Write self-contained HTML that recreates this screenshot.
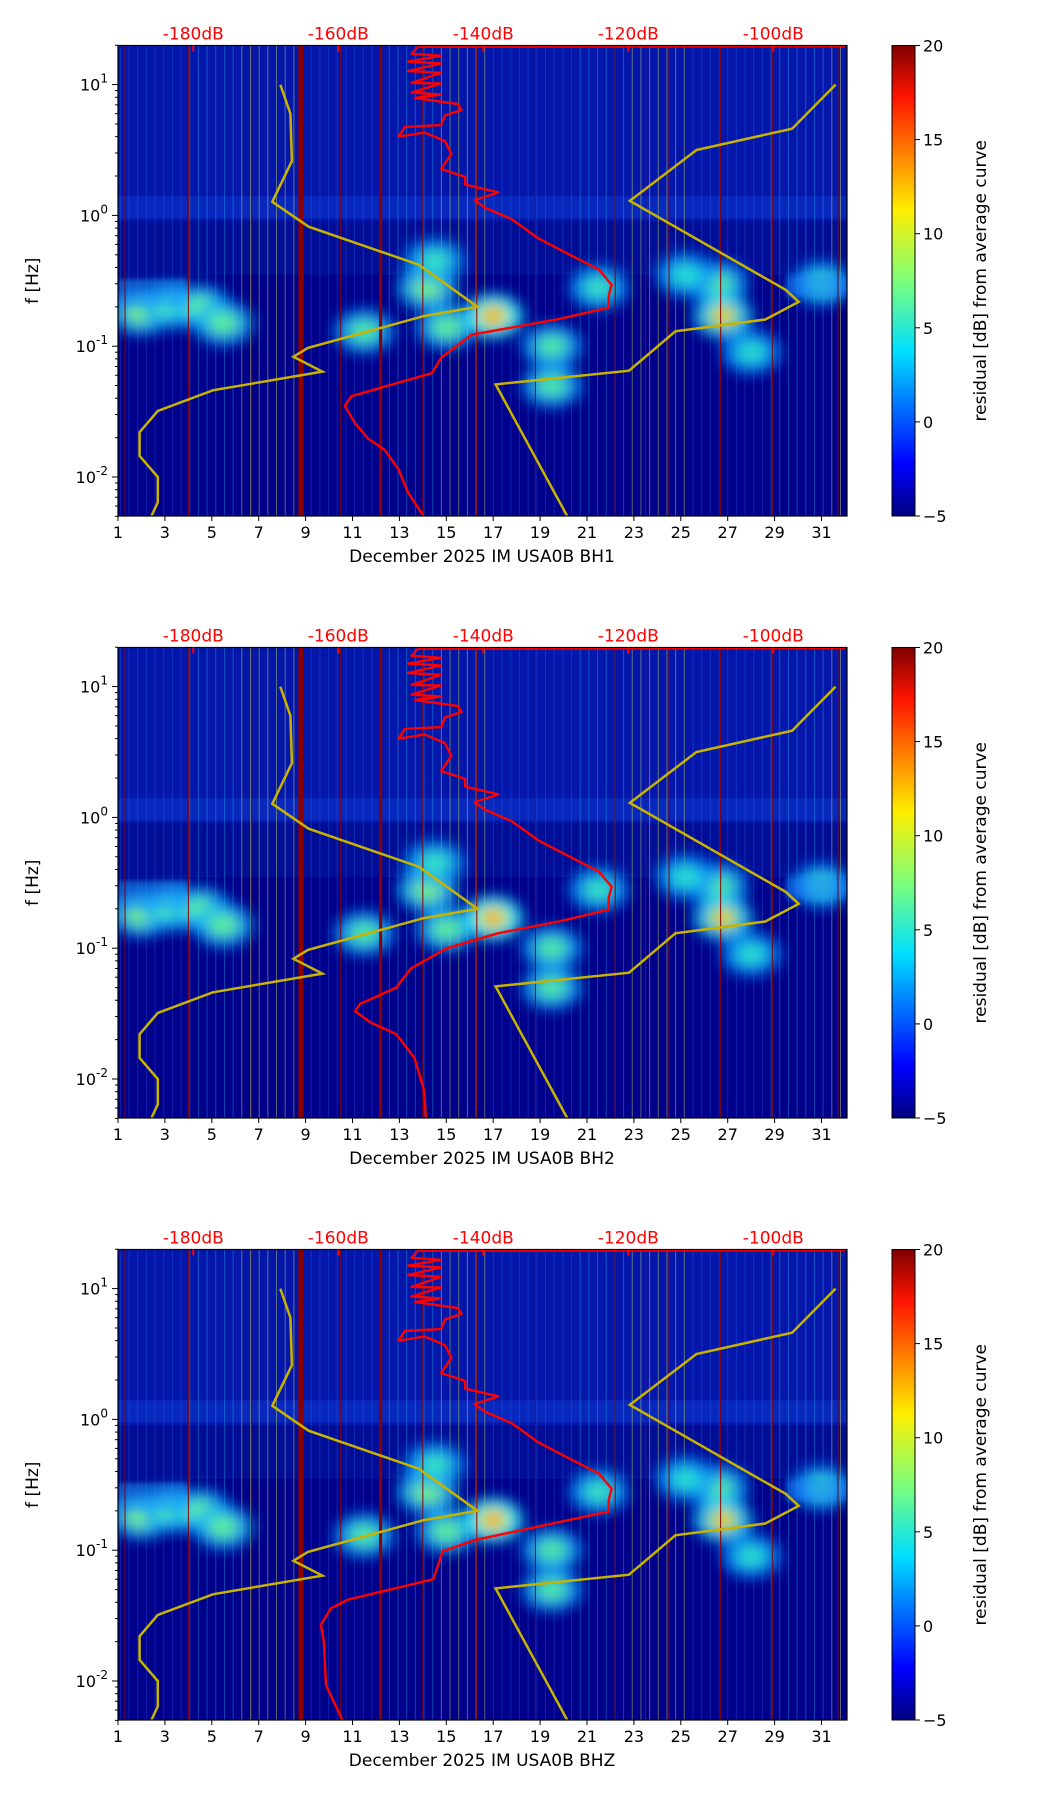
<!DOCTYPE html>
<html><head><meta charset="utf-8"><style>
html,body{margin:0;padding:0;background:#fff;}
svg{display:block;font-family:"DejaVu Sans","Liberation Sans",sans-serif;}
</style></head><body>
<svg id="chart" width="1052" height="1806" viewBox="0 0 1052 1806" xmlns="http://www.w3.org/2000/svg">
<defs>
<linearGradient id="jet" x1="0" y1="1" x2="0" y2="0">
<stop offset="0" stop-color="#00007f"/><stop offset="0.11" stop-color="#0000ff"/>
<stop offset="0.35" stop-color="#00e0ff"/><stop offset="0.5" stop-color="#7dff7a"/>
<stop offset="0.65" stop-color="#ffee00"/><stop offset="0.89" stop-color="#ff1400"/>
<stop offset="1" stop-color="#7f0000"/></linearGradient>
<filter id="blur" x="-50%" y="-50%" width="200%" height="200%"><feGaussianBlur stdDeviation="7"/></filter>
<filter id="blur2" x="-50%" y="-50%" width="200%" height="200%"><feGaussianBlur stdDeviation="3"/></filter>
</defs>
</svg>
<script>
// ---- data ----
const days = [1,3,5,7,9,11,13,15,17,19,21,23,25,27,29,31];
const dbTicks = [-180,-160,-140,-120,-100];
const cbTicks = [20,15,10,5,0,-5];
const channels = ["BH1","BH2","BHZ"];
// NLNM / NHNM (freq Hz, dB)
const nlnmF = [10,6.0,2.6,1.27,0.82,0.42,0.2,0.17,0.097,0.083,0.064,0.046,0.032,0.022,0.0145,0.01,0.0064,0.005];
const nlnmDb = [-168.0,-166.6,-166.4,-169.1,-164.1,-148.9,-140.8,-148.2,-164.2,-166.2,-162.2,-177.3,-184.9,-187.4,-187.4,-184.9,-184.9,-185.8];
const nhnmF = [10,4.6,3.16,1.29,0.27,0.218,0.16,0.13,0.065,0.051,0.005];
const nhnmDb = [-91.4,-97.4,-110.6,-119.8,-98.3,-96.5,-101.1,-113.5,-119.9,-138.3,-128.4];
// PSD curves
const psdHighF = [19.7,19.5,17.2,16.6,15.0,14.5,12.7,12.3,10.3,10.2,8.7,8.4,7.9,7.1,6.4,5.8,4.9,4.75,4.0,4.3,3.7,2.96,2.26,1.97,1.72,1.5,1.31,1.15,0.935,0.667,0.491,0.387,0.296,0.241,0.197];
const psdHighDb = [-90.1,-149.0,-149.9,-145.8,-150.4,-145.8,-150.4,-145.8,-149.9,-145.8,-149.9,-145.8,-149.4,-143.5,-143.0,-145.3,-145.8,-150.8,-151.7,-148.1,-145.3,-144.4,-145.8,-142.5,-142.5,-137.9,-141.2,-139.8,-136.1,-132.4,-127.8,-124.1,-122.3,-122.7,-122.7];
const psd1LowF = [0.161,0.1225,0.0817,0.0622,0.0491,0.0415,0.035,0.0258,0.0197,0.0161,0.01146,0.00762,0.005];
const psd1LowDb = [-129.6,-141.6,-145.8,-147.1,-153.6,-158.2,-159.1,-157.7,-155.9,-153.6,-151.7,-150.4,-148.2];
const psd2LowF = [0.16,0.13,0.1,0.07,0.05,0.0375,0.033,0.027,0.022,0.0145,0.0083,0.005];
const psd2LowDb = [-129.6,-138,-145,-150,-152,-157,-157.7,-155.5,-152,-149.5,-148.2,-147.9];
const psd3LowF = [0.19,0.12,0.098,0.06,0.042,0.036,0.027,0.02,0.0093,0.005];
const psd3LowDb = [-124.1,-141,-145.6,-146.9,-158.6,-161,-162.4,-162,-161.7,-159.4];
// spectrogram blobs: day, freq, intensity
const blobDay = [2,3.3,4.5,5.5,11.5,14.2,14.5,15,17,17,19.5,19.5,21.5,26.6,26.8,28,31,25.2];
const blobF   = [0.18,0.2,0.2,0.15,0.13,0.28,0.45,0.14,0.17,0.17,0.1,0.05,0.28,0.3,0.17,0.09,0.3,0.35];
const blobI   = [0.6,0.45,0.5,0.5,0.45,0.6,0.35,0.5,0.55,0.95,0.45,0.45,0.35,0.45,0.8,0.3,0.35,0.3];
const redLines = [1.3,4,6.7,8.8,10.5,12.2,14,16.3,18.8,22.2,23.5,24.5,26.7,28.9,31.7];

const NS="http://www.w3.org/2000/svg";
const svg=document.getElementById('chart');
function el(t,a,p){const e=document.createElementNS(NS,t);for(const k in a)e.setAttribute(k,a[k]);(p||svg).appendChild(e);return e;}
const L=118,R=847;
const xD=d=>L+(d-1)*23.45;
const xDb=db=>628.3+(db+120)*7.25;
function jet(v){const s=[[0,[0,0,127]],[0.11,[0,0,255]],[0.35,[0,224,255]],[0.5,[125,255,122]],[0.65,[255,238,0]],[0.89,[255,20,0]],[1,[127,0,0]]];
 for(let i=1;i<s.length;i++)if(v<=s[i][0]){const t=(v-s[i-1][0])/(s[i][0]-s[i-1][0]);const c=s[i-1][1].map((a,j)=>Math.round(a+(s[i][1][j]-a)*t));return`rgb(${c})`;}return'rgb(127,0,0)';}

channels.forEach((ch,pi)=>{
 const off=pi*602, T=45.5+off, B=516+off;
 const yF=f=>84.6+off-(Math.log10(f)-1)*130.8;
 const g=el('g',{});
 
 
 const cid='clip'+pi;
 const cp=el('clipPath',{id:cid},g);el('rect',{x:L,y:T,width:R-L,height:B-T},cp);
 const area=el('g',{'clip-path':`url(#${cid})`},g);
 
 
 el('rect',{x:L,y:T,width:R-L,height:B-T,fill:'#00008a'},area);
 el('rect',{x:L,y:T,width:R-L,height:yF(0.9)-T,fill:'#0626c0',opacity:0.6},area);
 el('rect',{x:L,y:yF(1.4),width:R-L,height:yF(0.95)-yF(1.4),fill:'#1040d8',opacity:0.4},area);
 el('rect',{x:L,y:yF(0.9),width:R-L,height:yF(0.35)-yF(0.9),fill:'#0420a8',opacity:0.4},area);
 // vertical streaks
 for(let d=1.1;d<32;d+=0.37){const k=Math.round(d*37)%7;
  const c=k<2?'#e8ff40':k<4?'#30e0ff':'#2a70ff';
  el('line',{x1:xD(d),x2:xD(d),y1:T,y2:B,stroke:c,'stroke-width':1,opacity:k<2?0.4:0.3},area);}
 const bg=el('g',{filter:'url(#blur)'},area);
 blobDay.forEach((d,i)=>{const x=xD(d),y=yF(blobF[i]),v=blobI[i];
  el('ellipse',{cx:x,cy:y,rx:30,ry:22,fill:jet(0.22+v*0.15),opacity:0.8},bg);
  el('ellipse',{cx:x,cy:y,rx:16,ry:12,fill:jet(0.3+v*0.35),opacity:0.85},bg);
  if(v>0.7)el('ellipse',{cx:x,cy:y,rx:7,ry:7,fill:jet(0.45+v*0.35)},bg);});
 el('rect',{x:L,y:yF(0.33),width:70,height:yF(0.2)-yF(0.33),fill:'#1aa0ff',opacity:0.5,filter:'url(#blur2)'},area);
 el('rect',{x:xD(29.5),y:yF(0.35),width:R-xD(29.5),height:yF(0.24)-yF(0.35),fill:'#1a80ff',opacity:0.5,filter:'url(#blur2)'},area);
 redLines.forEach(d=>{const w=(d===8.8?5:d===12.2?3:1);
  const ln=el('line',{x1:xD(d),x2:xD(d),y1:T,y2:B,stroke:'#8b0000','stroke-width':w},area);
  });
 // noise models
 const mk=(F,D)=>F.map((f,i)=>`${xDb(D[i]).toFixed(1)},${yF(f).toFixed(1)}`).join(' ');
 const n1=el('polyline',{points:mk(nlnmF,nlnmDb),fill:'none',stroke:'#c8b400','stroke-width':2.5},area);
 
 const n2=el('polyline',{points:mk(nhnmF,nhnmDb),fill:'none',stroke:'#c8b400','stroke-width':2.5},area);
 
 const lowF=[psd1LowF,psd2LowF,psd3LowF][pi],lowDb=[psd1LowDb,psd2LowDb,psd3LowDb][pi];
 const pc=el('polyline',{points:mk(psdHighF.concat(lowF),psdHighDb.concat(lowDb)),fill:'none',stroke:'#ff0000','stroke-width':2.4,'stroke-linejoin':'round'},area);
 
 el('rect',{x:L,y:T,width:R-L,height:B-T,fill:'none',stroke:'#000','stroke-width':1.2},g);
 // x ticks
 days.forEach(d=>{const x=xD(d);el('line',{x1:x,x2:x,y1:B,y2:B+5,stroke:'#000'},g);
  const t=el('text',{x:x,y:B+22,'text-anchor':'middle','font-size':16},g);t.textContent=d;
  });
 const xl=el('text',{x:482,y:B+46,'text-anchor':'middle','font-size':17},g);xl.textContent='December 2025 IM USA0B  '+ch;
 
 // y ticks
 for(let e=-3;e<=1;e++){for(let m=1;m<10;m++){const f=m*Math.pow(10,e);if(f<0.005||f>20)continue;const y=yF(f);
  el('line',{x1:L-(m===1?6:3),x2:L,y1:y,y2:y,stroke:'#000'},g);
  if(m===1){const t=el('text',{x:L-10,y:y+6,'text-anchor':'end','font-size':16},g);
   
   const a=el('tspan',{},t);a.textContent='10';const b=el('tspan',{dy:-8,'font-size':12},t);b.textContent=e;}}}
 const yl=el('text',{x:0,y:0,'text-anchor':'middle','font-size':17,transform:`translate(38,${(T+B)/2}) rotate(-90)`},g);yl.textContent='f [Hz]';
 
 // top dB ticks
 dbTicks.forEach(db=>{const x=xDb(db);el('line',{x1:x,x2:x,y1:T,y2:T+6,stroke:'#ff0000','stroke-width':2},g);
  const t=el('text',{x:x,y:T-6,'text-anchor':'middle','font-size':17,fill:'#ff0000'},g);t.textContent=db+'dB';
  });
 // colorbar
 const cb=el('rect',{x:892,y:T,width:23,height:B-T,fill:'url(#jet)',stroke:'#000','stroke-width':1},g);
 
 cbTicks.forEach(v=>{const y=B-(v+5)/25*(B-T);el('line',{x1:915,x2:920,y1:y,y2:y,stroke:'#000'},g);
  const t=el('text',{x:923,y:y+6,'font-size':16},g);t.textContent=v<0?'\u2212'+(-v):v;
  });
 const cl=el('text',{x:0,y:0,'text-anchor':'middle','font-size':17,transform:`translate(986,${(T+B)/2}) rotate(-90)`},g);cl.textContent='residual [dB] from average curve';
 
});
</script>
</body></html>
